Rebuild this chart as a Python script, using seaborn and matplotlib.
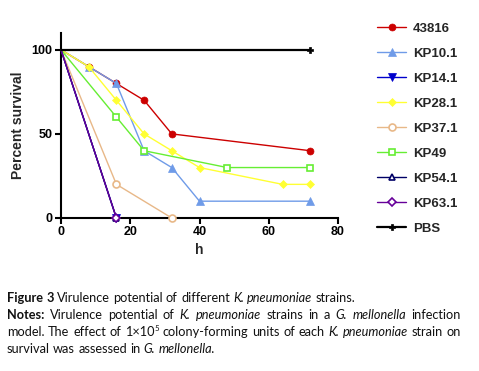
import matplotlib
matplotlib.use("Agg")
import matplotlib.pyplot as plt
import pandas as pd
import seaborn as sns

# Survival data (hours post infection vs percent survival)
strains = ["43816", "KP10.1", "KP14.1", "KP28.1", "KP37.1", "KP49", "KP54.1", "KP63.1", "PBS"]
hours_43816 = [0, 8, 16, 24, 32, 72]
surv_43816 = [100, 90, 80, 70, 50, 40]
hours_kp10 = [0, 8, 16, 24, 32, 40, 72]
surv_kp10 = [100, 90, 80, 40, 30, 10, 10]
hours_kp14 = [0, 16]
surv_kp14 = [100, 0]
hours_kp28 = [0, 8, 16, 24, 32, 40, 64, 72]
surv_kp28 = [100, 90, 70, 50, 40, 30, 20, 20]
hours_kp37 = [0, 16, 32]
surv_kp37 = [100, 20, 0]
hours_kp49 = [0, 16, 24, 48, 72]
surv_kp49 = [100, 60, 40, 30, 30]
hours_kp54 = [0, 16]
surv_kp54 = [100, 0]
hours_kp63 = [0, 16]
surv_kp63 = [100, 0]
hours_pbs = [0, 72]
surv_pbs = [100, 100]

all_hours = [hours_43816, hours_kp10, hours_kp14, hours_kp28, hours_kp37,
             hours_kp49, hours_kp54, hours_kp63, hours_pbs]
all_surv = [surv_43816, surv_kp10, surv_kp14, surv_kp28, surv_kp37,
            surv_kp49, surv_kp54, surv_kp63, surv_pbs]

colors = ["#cc0000", "#6f9be8", "#0000cc", "#ffff33", "#e8b888",
          "#66ee33", "#000066", "#660099", "#000000"]
markers = ["o", "^", "v", "D", "o", "s", "^", "D", "P"]
marker_sizes = [5, 5.5, 5.5, 4, 5, 5, 4.5, 4, 4.5]
open_marker = [False, False, False, False, True, True, True, True, False]

rows = []
for name, hh, ss in zip(strains, all_hours, all_surv):
    for h, s in zip(hh, ss):
        rows.append({"strain": name, "h": h, "survival": s})
df = pd.DataFrame(rows)

sns.set_style("ticks")
plt.rcParams["font.family"] = ["Liberation Sans", "DejaVu Sans"]

fig = plt.figure(figsize=(4.79, 3.71), dpi=100)
ax = fig.add_axes([61 / 479, 1 - 218 / 371, (338 - 61) / 479, (218 - 33) / 371])

for i, name in enumerate(strains):
    sub = df[df["strain"] == name]
    sns.lineplot(data=sub, x="h", y="survival", ax=ax, color=colors[i],
                 marker=markers[i], markersize=marker_sizes[i],
                 markevery=list(range(1, len(sub))),
                 markerfacecolor="white" if open_marker[i] else colors[i],
                 markeredgecolor=colors[i], markeredgewidth=1.2 if open_marker[i] else 0.5,
                 linewidth=1.6 if name == "PBS" else 1.0,
                 label=name, clip_on=False, zorder=3 + i)

ax.set_xlim(0, 80)
ax.set_ylim(0, 110)
ax.set_xticks([0, 20, 40, 60, 80])
ax.set_yticks([0, 50, 100])
for s in ["top", "right"]:
    ax.spines[s].set_visible(False)
for s in ["left", "bottom"]:
    ax.spines[s].set_linewidth(1.5)
    ax.spines[s].set_color("black")
ax.tick_params(direction="out", length=4, width=1.5, labelsize=9, pad=2, colors="black")
for lab in ax.get_xticklabels() + ax.get_yticklabels():
    lab.set_fontweight("bold")
ax.set_xlabel("h", fontsize=10, fontweight="bold", labelpad=3)
ax.set_ylabel("Percent survival", fontsize=10, fontweight="bold", labelpad=5)

handles, labels = ax.get_legend_handles_labels()
if ax.legend_:
    ax.legend_.remove()
fig.legend(handles, labels, loc="upper left", bbox_to_anchor=(372 / 479, 1 - 17 / 371),
           frameon=False, prop={"weight": "bold", "size": 9.5},
           handlelength=2.2, handletextpad=0.5, labelspacing=0.97, borderaxespad=0)

# caption with justified lines built word by word
cap_font = ["Lato", "DejaVu Sans"]
cap_size = 9.2
x_left, x_right = 7, 461
renderer = fig.canvas.get_renderer()

B = {"fontweight": "bold"}
I = {"fontstyle": "italic"}
N = {}
caption_lines = [
    ([[("Figure", B)], [("3", B)], [("Virulence", N)], [("potential", N)], [("of", N)],
      [("different", N)], [("K.", I)], [("pneumoniae", I)], [("strains.", N)]], False, 302),
    ([[("Notes:", B)], [("Virulence", N)], [("potential", N)], [("of", N)], [("K.", I)],
      [("pneumoniae", I)], [("strains", N)], [("in", N)], [("a", N)], [("G.", I)],
      [("mellonella", I)], [("infection", N)]], True, 319),
    ([[("model.", N)], [("The", N)], [("effect", N)], [("of", N)], [("1\u00d710", N), ("5", {"sup": True})],
      [("colony-forming", N)], [("units", N)], [("of", N)], [("each", N)], [("K.", I)],
      [("pneumoniae", I)], [("strain", N)], [("on", N)]], True, 336),
    ([[("survival", N)], [("was", N)], [("assessed", N)], [("in", N)], [("G.", I)],
      [("mellonella.", I)]], False, 353),
]


def make_piece(txt, props, x, y):
    kw = dict(fontfamily=cap_font, fontsize=cap_size, color="#111111", va="baseline", ha="left")
    p = dict(props)
    if p.pop("sup", False):
        kw["fontsize"] = cap_size * 0.62
        y = y - 5
    kw.update(p)
    return fig.text(x / 479, 1 - y / 371, txt, **kw)


space_w = None
for words, justify, ybase in caption_lines:
    widths = []
    for w in words:
        tot = 0
        for txt, props in w:
            t = make_piece(txt, props, 0, ybase)
            tot += t.get_window_extent(renderer).width
            t.remove()
        widths.append(tot)
    if space_w is None:
        t = make_piece("a a", N, 0, ybase)
        t2 = make_piece("aa", N, 0, ybase)
        space_w = t.get_window_extent(renderer).width - t2.get_window_extent(renderer).width
        t.remove()
        t2.remove()
    gap = space_w
    if justify:
        gap = (x_right - x_left - sum(widths)) / (len(words) - 1)
    x = x_left
    for w, wd in zip(words, widths):
        xx = x
        for txt, props in w:
            t = make_piece(txt, props, xx, ybase)
            xx += t.get_window_extent(renderer).width
        x += wd + gap

fig.savefig("out.png", dpi=100)
